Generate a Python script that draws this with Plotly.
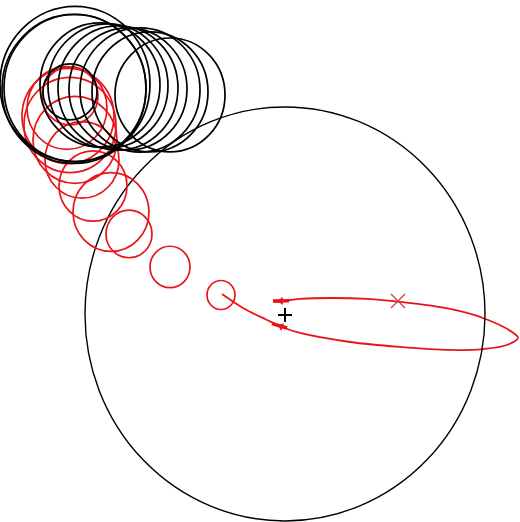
import plotly.graph_objects as go

# central body (circle) and markers
body_x, body_y, body_r = 0, 1, 200
center_x, center_y = [0], [0]
cross_x, cross_y = [113], [13.5]

# red trajectory
traj_x = [-63, -42, -18, -3, 15, 65, 115, 165, 198, 222, 233, 227, 198, 165, 115, 82, 48, 15, -2, -11]
traj_y = [20.3, 6.8, -4.8, -11.6, -17.4, -26.1, -30.9, -33.8, -32.9, -29, -22.2, -16.4, -2.9, 5.8, 12.6, 15.5, 16.4, 15.5, 13.5, 12.6]

# arrow marks on the trajectory
arrow_x = [-12, 4, None, -13, 2]
arrow_y = [13.5, 13.8, None, -8.3, -12.6]
head_x = [-4, -4]
head_y = [13.6, -11.2]
head_angle = [270, 290]

# red circles along the path
red_cx = [-64, -115, -156, -174, -192, -203, -210, -215, -217, -218, -215]
red_cy = [19.3, 46.4, 78.3, 99.5, 124.6, 149.8, 169.1, 183.6, 192.2, 200.0, 211.6]
red_r = [14, 20, 23, 38, 34, 37, 42, 46, 46, 40, 28]

# black circles
blk_cx = [-210, -211, -210, -215, -185, -177, -167, -157, -145, -135, -115]
blk_cy = [223.2, 218.4, 219.3, 215.5, 222.2, 221.3, 219.3, 218.4, 217.4, 215.5, 212.6]
blk_r = [75, 72, 71, 27, 60, 60, 60, 59, 60, 58, 55]

RED = "#e8141a"

fig = go.Figure()

shapes = [dict(type="circle", xref="x", yref="y",
               x0=body_x - body_r, x1=body_x + body_r,
               y0=body_y - body_r, y1=body_y + body_r,
               line=dict(color="black", width=1.4))]
for cx, cy, r in zip(red_cx, red_cy, red_r):
    shapes.append(dict(type="circle", xref="x", yref="y",
                       x0=cx - r, x1=cx + r, y0=cy - r, y1=cy + r,
                       line=dict(color=RED, width=1.7)))
for cx, cy, r in zip(blk_cx, blk_cy, blk_r):
    shapes.append(dict(type="circle", xref="x", yref="y",
                       x0=cx - r, x1=cx + r, y0=cy - r, y1=cy + r,
                       line=dict(color="black", width=1.7)))

fig.add_trace(go.Scatter(x=traj_x, y=traj_y, mode="lines",
                         line=dict(color=RED, width=1.8, shape="spline"),
                         hoverinfo="skip"))
fig.add_trace(go.Scatter(x=arrow_x, y=arrow_y, mode="lines",
                         line=dict(color=RED, width=3.5),
                         hoverinfo="skip"))
fig.add_trace(go.Scatter(x=head_x, y=head_y, mode="markers",
                         marker=dict(symbol="triangle-up", size=7,
                                     angle=head_angle, color=RED)))
fig.add_trace(go.Scatter(x=cross_x, y=cross_y, mode="markers",
                         marker=dict(symbol="x-thin", size=14,
                                     line=dict(color="#d04040", width=1.3))))
fig.add_trace(go.Scatter(x=center_x, y=center_y, mode="markers",
                         marker=dict(symbol="cross-thin", size=10,
                                     line=dict(color="black", width=2))))

fig.update_layout(
    width=520, height=522,
    margin=dict(l=0, r=0, t=0, b=0),
    paper_bgcolor="white", plot_bgcolor="white",
    showlegend=False,
    shapes=shapes,
    xaxis=dict(range=[-285, 235], visible=False, fixedrange=True),
    yaxis=dict(range=[-200, 304.3], visible=False, fixedrange=True),
)

fig.write_html("out.html", config={"staticPlot": True},
               post_script="document.body.style.margin='0';")
